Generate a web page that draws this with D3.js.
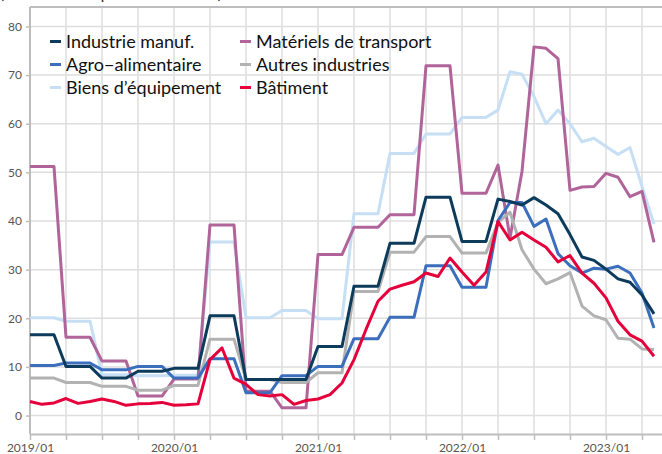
<!DOCTYPE html>
<html>
<head>
<meta charset="utf-8">
<script src="https://cdn.jsdelivr.net/npm/d3@7"></script>
<style>
  body { margin: 0; background: #fff; }
  svg { display: block; font-family: Lato, "Noto Sans", sans-serif; }
</style>
</head>
<body>
<div id="chart"></div>
<script>
// monthly observations, 2019/01 .. 2023/05
var months = d3.timeMonth.range(new Date(2019, 0, 1), new Date(2023, 5, 1));

var industrie = [16.6, 16.6, 16.6, 10.1, 10.1, 10.1, 7.7, 7.7, 7.7, 9.1, 9.1, 9.1,
  9.7, 9.7, 9.7, 20.5, 20.5, 20.5, 7.4, 7.4, 7.4, 7.4, 7.4, 7.4,
  14.2, 14.2, 14.2, 26.6, 26.6, 26.6, 35.4, 35.4, 35.4, 44.9, 44.9, 44.9,
  35.8, 35.8, 35.8, 44.5, 44.0, 43.3, 44.8, 43.3, 41.5, 37.2, 32.6, 31.9,
  30.1, 28.1, 27.4, 24.8, 20.9];
var agro = [10.3, 10.3, 10.3, 10.8, 10.8, 10.8, 9.4, 9.4, 9.4, 10.1, 10.1, 10.1,
  7.7, 7.7, 7.7, 11.7, 11.7, 11.7, 4.7, 4.7, 4.7, 8.2, 8.2, 8.2,
  10.1, 10.1, 10.1, 15.8, 15.8, 15.8, 20.2, 20.2, 20.2, 30.8, 30.8, 30.8,
  26.4, 26.4, 26.4, 40.1, 43.8, 43.8, 38.9, 40.4, 33.3, 30.8, 29.3, 30.3,
  30.1, 30.7, 29.3, 25.2, 18.0];
var biens = [20.1, 20.1, 20.1, 19.4, 19.4, 19.4, 8.4, 8.4, 8.4, 8.2, 8.2, 8.2,
  8.3, 8.3, 8.3, 35.7, 35.7, 35.7, 20.1, 20.1, 20.1, 21.6, 21.6, 21.6,
  19.9, 19.9, 19.9, 41.5, 41.5, 41.5, 53.9, 53.9, 53.9, 57.9, 57.9, 57.9,
  61.3, 61.3, 61.3, 62.8, 70.7, 70.2, 65.6, 60.0, 62.8, 60.0, 56.3, 57.0,
  55.3, 53.7, 55.1, 47.1, 39.4];
var transport = [51.2, 51.2, 51.2, 16.1, 16.1, 16.1, 11.2, 11.2, 11.2, 4.0, 4.0, 4.0,
  7.5, 7.5, 7.5, 39.2, 39.2, 39.2, 5.0, 5.0, 5.0, 1.6, 1.6, 1.6,
  33.1, 33.1, 33.1, 38.7, 38.7, 38.7, 41.3, 41.3, 41.3, 71.9, 71.9, 71.9,
  45.7, 45.7, 45.7, 51.5, 36.5, 50.2, 75.8, 75.5, 73.4, 46.3, 47.0, 47.1,
  49.8, 49.0, 45.0, 46.1, 35.6];
var autres = [7.7, 7.7, 7.7, 6.8, 6.8, 6.8, 6.0, 6.0, 6.0, 5.2, 5.2, 5.2,
  6.2, 6.2, 6.2, 15.7, 15.7, 15.7, 7.4, 7.4, 7.4, 6.8, 6.8, 6.8,
  8.8, 8.8, 8.8, 25.5, 25.5, 25.5, 33.6, 33.6, 33.6, 36.8, 36.8, 36.8,
  33.4, 33.4, 33.4, 39.7, 41.8, 34.1, 30.1, 27.1, 28.1, 29.4, 22.5, 20.5,
  19.7, 15.9, 15.7, 13.7, 13.6];
var batiment = [2.9, 2.3, 2.6, 3.5, 2.5, 2.9, 3.4, 2.9, 2.1, 2.4, 2.5, 2.7,
  2.1, 2.2, 2.4, 11.5, 13.9, 7.7, 6.4, 4.3, 4.0, 4.3, 2.3, 3.1,
  3.4, 4.3, 6.7, 11.5, 17.7, 23.5, 26.0, 26.8, 27.5, 29.3, 28.6, 32.4,
  29.5, 26.8, 29.5, 39.9, 36.1, 37.7, 36.1, 34.6, 31.6, 32.9, 29.3, 27.2,
  24.2, 19.4, 16.6, 15.3, 12.2];

var seriesNames = ["Industrie manuf.", "Agro\u2212alimentaire", "Biens d\u2019\u00e9quipement",
  "Mat\u00e9riels de transport", "Autres industries", "B\u00e2timent"];
var seriesValues = [industrie, agro, biens, transport, autres, batiment];
var seriesColors = ["#0d3b5c", "#3b6fbd", "#c6dff4", "#b0649a", "#b2b2b2", "#e5003c"];
var drawOrder = [2, 3, 4, 1, 0, 5];

var yTicks = [0, 10, 20, 30, 40, 50, 60, 70, 80];

var svgWidth = 662;
var svgHeight = 454;
var plotLeft = 30, plotTop = 7, plotBottom = 434;

var svg = d3.select("#chart").append("svg")
  .attr("width", svgWidth)
  .attr("height", svgHeight);

// subtitle, mostly cut off at the top of the picture
svg.append("text")
  .attr("x", 0)
  .attr("y", -1)
  .style("font-size", "15px")
  .attr("fill", "#222")
  .text("(en % des entreprises concern\u00e9es)");

var x = d3.scaleLinear().domain([0, 54]).range([plotLeft, plotLeft + 54 * 12]);
var y = d3.scaleLinear().domain([-4, 84]).range([plotBottom + 1, plotTop]);

var quarterTicks = d3.range(0, 55, 3);

// grid
svg.append("g")
  .selectAll("line")
  .data(yTicks)
  .join("line")
  .attr("x1", plotLeft).attr("x2", svgWidth)
  .attr("y1", d => y(d)).attr("y2", d => y(d))
  .attr("stroke", "#dedede").attr("stroke-width", 1.5);

svg.append("g")
  .selectAll("line")
  .data(quarterTicks.filter(d => d > 0))
  .join("line")
  .attr("x1", d => x(d)).attr("x2", d => x(d))
  .attr("y1", plotTop).attr("y2", plotBottom)
  .attr("stroke", "#dedede").attr("stroke-width", 1.5);

// top frame line
svg.append("line")
  .attr("x1", plotLeft).attr("x2", svgWidth)
  .attr("y1", plotTop).attr("y2", plotTop)
  .attr("stroke", "#bdbdbd").attr("stroke-width", 2);

// axes
var xAxis = d3.axisBottom(x)
  .tickValues(quarterTicks)
  .tickSize(6)
  .tickSizeOuter(0)
  .tickFormat(d => d % 12 === 0 ? d3.timeFormat("%Y/%m")(d3.timeMonth.offset(months[0], d)) : "");

var gx = svg.append("g")
  .attr("transform", `translate(0, ${plotBottom})`)
  .call(xAxis);
gx.select(".domain").attr("stroke", "#bdbdbd").attr("stroke-width", 2);
gx.selectAll(".tick line").attr("stroke", "#bdbdbd").attr("stroke-width", 1.5);
gx.selectAll(".tick text")
  .attr("y", 9)
  .attr("fill", "#555")
  .style("font-size", "12px")
  .style("font-family", "Lato, sans-serif");

var yAxis = d3.axisLeft(y)
  .tickValues(yTicks)
  .tickSize(4)
  .tickSizeOuter(0);

var gy = svg.append("g")
  .attr("transform", `translate(${plotLeft}, 0)`)
  .call(yAxis);
gy.select(".domain").attr("d", `M0,${plotTop}V${plotBottom}`).attr("stroke", "#bdbdbd").attr("stroke-width", 2);
gy.selectAll(".tick line").attr("stroke", "#bdbdbd").attr("stroke-width", 1.5);
gy.selectAll(".tick text")
  .attr("x", -8)
  .attr("fill", "#555")
  .style("font-size", "12px")
  .style("font-family", "Lato, sans-serif");

// lines
var line = d3.line()
  .x((d, i) => x(i))
  .y(d => y(d));

svg.append("g")
  .selectAll("path")
  .data(drawOrder)
  .join("path")
  .attr("d", k => line(seriesValues[k]))
  .attr("fill", "none")
  .attr("stroke", k => seriesColors[k])
  .attr("stroke-width", 3)
  .attr("stroke-linejoin", "round");

// legend, two columns of three
var legend = svg.append("g");
var item = legend.selectAll("g")
  .data(seriesNames)
  .join("g")
  .attr("transform", (d, i) => `translate(${i < 3 ? 50 : 240}, ${41.5 + (i % 3) * 23})`);

item.append("line")
  .attr("x1", 0).attr("x2", 11)
  .attr("stroke", (d, i) => seriesColors[i])
  .attr("stroke-width", 3);

item.append("text")
  .attr("x", 16)
  .attr("dy", "0.35em")
  .style("font-size", "18px")
  .attr("fill", "#111")
  .text(d => d);
</script>
</body>
</html>
